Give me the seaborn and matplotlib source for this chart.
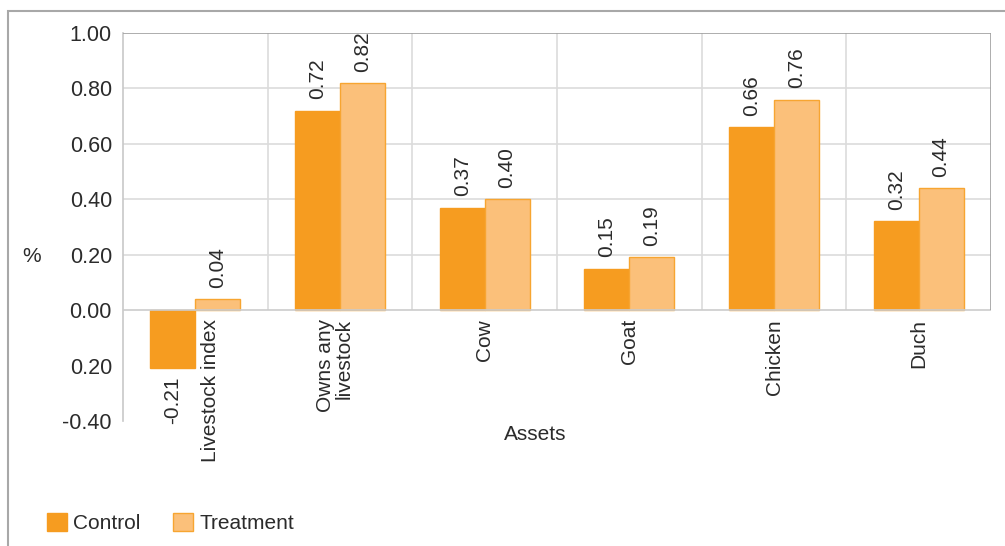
import matplotlib
matplotlib.use("Agg")
import matplotlib.pyplot as plt
import seaborn as sns
import pandas as pd
from matplotlib.patches import Rectangle, Patch
from matplotlib.transforms import offset_copy

categories = ["Livestock index", "Owns any\nlivestock", "Cow", "Goat", "Chicken", "Duch"]
control = [-0.21, 0.72, 0.37, 0.15, 0.66, 0.32]
treatment = [0.04, 0.82, 0.40, 0.19, 0.76, 0.44]
series = ["Control", "Treatment"]
yticks = [-0.4, -0.2, 0.0, 0.2, 0.4, 0.6, 0.8, 1.0]
ytick_labels = ["-0.40", "0.20", "0.00", "0.20", "0.40", "0.60", "0.80", "1.00"]

fill = {"Control": "#F69C20", "Treatment": "#FBC07A"}
edge = {"Control": "#F69C20", "Treatment": "#F7A531"}
text_color = "#2b2b2b"

sns.set_theme(style="white")
plt.rcParams["font.family"] = ["Liberation Sans", "DejaVu Sans"]
plt.rcParams["text.color"] = text_color

df = pd.DataFrame({
    "cat": categories * 2,
    "val": control + treatment,
    "series": [series[0]] * len(categories) + [series[1]] * len(categories),
})

fig = plt.figure(figsize=(10.05, 5.46), dpi=100)
ax = fig.add_axes([123 / 1005, 1 - 421 / 546, (991 - 123) / 1005, (421 - 33) / 546])

sns.barplot(data=df, x="cat", y="val", hue="series", order=categories,
            hue_order=series, palette=fill, width=0.62, ax=ax, legend=False,
            saturation=1)

for cont, s in zip(ax.containers, series):
    for p in cont:
        p.set_edgecolor(edge[s])
        p.set_linewidth(1.0)

ax.set_xlim(-0.5, len(categories) - 0.5)
ax.set_ylim(-0.4, 1.0)

# grid and frame
for y in [0.2, 0.4, 0.6, 0.8]:
    ax.hlines(y, -0.5, len(categories) - 0.5, color="#dcdcdc", lw=1.2, zorder=0)
ax.vlines([i + 0.5 for i in range(len(categories) - 1)], 0, 1.0, color="#dcdcdc", lw=1.2, zorder=0)
ax.hlines(0, -0.5, len(categories) - 0.5, color="#cccccc", lw=1.2, zorder=3)
ax.hlines(1.0, -0.5, len(categories) - 0.5, color="#a0a0a0", lw=1.2, zorder=3)
ax.vlines(len(categories) - 0.5, 0, 1.0, color="#a0a0a0", lw=1.2, zorder=3)

for s in ["top", "right", "bottom"]:
    ax.spines[s].set_visible(False)
ax.spines["left"].set_color("#c8c8c8")
ax.spines["left"].set_linewidth(1.2)

ax.set_yticks(yticks)
ax.set_yticklabels(ytick_labels, fontsize=15.5, color=text_color)
ax.tick_params(axis="y", length=0, pad=8)
ax.set_xticks([])
ax.set_xlabel("")
ax.set_ylabel("")

# category labels below zero line
x_offsets = [15, -5, 0, 0, 0, 0]
for i, (c, dx) in enumerate(zip(categories, x_offsets)):
    tr = offset_copy(ax.transData, fig=fig, x=dx, y=-9, units="dots")
    ax.text(i, 0, c, rotation=90, ha="center", va="top", fontsize=15,
            color=text_color, transform=tr, linespacing=1.0, multialignment="right")

# value labels
for cont in ax.containers:
    for p in cont:
        h = p.get_height()
        xc = p.get_x() + p.get_width() / 2
        if h >= 0:
            top = p.get_y() + h
            ax.annotate(f"{top:.2f}", (xc, top), xytext=(0, 8), textcoords="offset points",
                        rotation=90, ha="center", va="bottom", fontsize=15, color=text_color)
        else:
            bot = min(p.get_y(), p.get_y() + h)
            ax.annotate(f"{bot:.2f}", (xc, bot), xytext=(0, -6), textcoords="offset points",
                        rotation=90, ha="center", va="top", fontsize=15, color=text_color)

fig.text(535 / 1005, 1 - 434 / 546, "Assets", ha="center", va="center", fontsize=15, color=text_color)
fig.text(32 / 1005, 1 - 257 / 546, "%", ha="center", va="center", fontsize=15, color=text_color)

# outer frame
fig.patches.append(Rectangle((8 / 1005, -0.2), 1.2, 1.2 + (1 - 11 / 546) - 1.0,
                             transform=fig.transFigure, fill=False, edgecolor="#a8a8a8",
                             lw=1.5, clip_on=False))

handles = [Patch(facecolor=fill[s], edgecolor=edge[s], label=s) for s in series]
fig.legend(handles=handles, loc="center left", bbox_to_anchor=(39 / 1005, 1 - 523 / 546),
           ncol=2, frameon=False, fontsize=15, handlelength=0.95, handleheight=0.95,
           handletextpad=0.3, columnspacing=1.55, borderaxespad=0)

fig.savefig("out.png", dpi=100)
